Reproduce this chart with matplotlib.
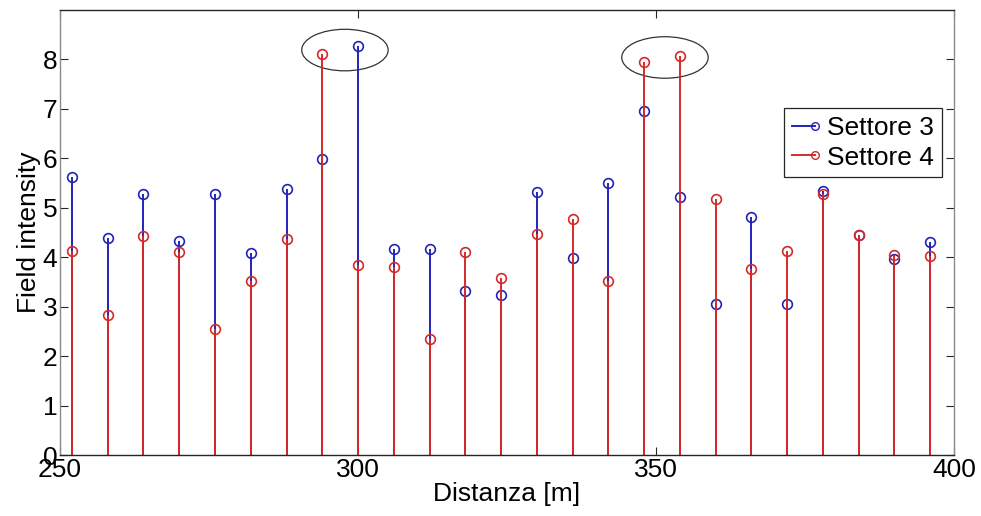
import numpy as np
import matplotlib
matplotlib.use("Agg")
import matplotlib.pyplot as plt
from matplotlib.patches import Ellipse
from matplotlib.lines import Line2D
from matplotlib.legend_handler import HandlerLine2D

plt.rcParams['font.family'] = ['Liberation Sans', 'DejaVu Sans']

distanza = list(range(252, 397, 6))
settore3 = [5.63, 4.39, 5.28, 4.33, 5.27, 4.08, 5.39, 5.99, 8.28, 4.16,
            4.16, 3.32, 3.24, 5.32, 3.99, 5.50, 6.96, 5.22, 3.06, 4.81,
            3.06, 5.33, 4.44, 3.96, 4.31]
settore4 = [4.12, 2.84, 4.42, 4.11, 2.54, 3.51, 4.37, 8.12, 3.85, 3.81,
            2.35, 4.11, 3.57, 4.47, 4.77, 3.51, 7.95, 8.07, 5.18, 3.76,
            4.13, 5.27, 4.44, 4.05, 4.03]
series_names = ['Settore 3', 'Settore 4']
x_ticks = [250, 300, 350, 400]
y_ticks = [0, 1, 2, 3, 4, 5, 6, 7, 8]
highlight_centers = [(297.8, 8.19), (351.5, 8.04)]

blue = '#2323b8'
red = '#d42a2a'
FS = 19


class RightMarker(HandlerLine2D):
    def create_artists(self, *args, **kwargs):
        arts = super().create_artists(*args, **kwargs)
        for a in arts:
            n = len(a.get_xdata())
            a.set_markevery([n - 1])
            a.set_markersize(5.5)
        return arts


fig = plt.figure(figsize=(9.81, 5.16), dpi=100)
ax = fig.add_axes([0.0612, 0.1182, 0.9113, 0.8624])

for vals, col in [(settore3, blue), (settore4, red)]:
    ml, sl, bl = ax.stem(distanza, vals, basefmt=' ')
    plt.setp(sl, color=col, linewidth=1.4)
    plt.setp(ml, color=col, markerfacecolor='none', markeredgecolor=col,
             markersize=7, markeredgewidth=1.2)

for cx, cy in highlight_centers:
    ax.add_patch(Ellipse((cx, cy), width=14.5, height=0.84, fill=False,
                         edgecolor='#333333', linewidth=0.9))

ax.set_xlim(250, 400)
ax.set_ylim(0, 9)
ax.set_xticks(x_ticks)
ax.set_yticks(y_ticks)
ax.tick_params(direction='in', length=6, width=0.8, top=True, right=True,
               labelsize=FS, colors='#262626', labelcolor='black', pad=2)
for s in ['left', 'right']:
    ax.spines[s].set_color('#8a8a8a')
for s in ['top', 'bottom']:
    ax.spines[s].set_color('#262626')
for s in ax.spines.values():
    s.set_linewidth(1.0)

ax.set_xlabel('Distanza [m]', fontsize=FS, labelpad=0)
ax.set_ylabel('Field intensity', fontsize=FS, labelpad=1)

handles = [Line2D([], [], color=c, marker='o', markerfacecolor='none',
                  markeredgecolor=c, markersize=7, linewidth=1.4)
           for c in (blue, red)]
leg = ax.legend(handles, series_names, loc='upper right',
                bbox_to_anchor=(0.9866, 0.779), borderaxespad=0,
                fontsize=FS, handlelength=0.9,
                handletextpad=0.45, borderpad=0.3, labelspacing=0.2,
                handler_map={Line2D: RightMarker()},
                fancybox=False, framealpha=1, edgecolor='#262626')
leg.get_frame().set_linewidth(0.9)

fig.savefig('out.png', dpi=100)
